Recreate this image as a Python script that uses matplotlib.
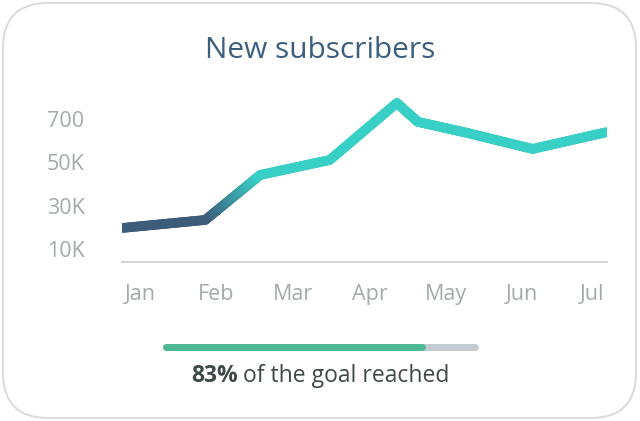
import numpy as np
import matplotlib.pyplot as plt
from matplotlib.collections import LineCollection
from matplotlib.colors import LinearSegmentedColormap, Normalize
from matplotlib.patches import FancyBboxPatch

plt.rcParams['font.family'] = ['Open Sans', 'DejaVu Sans']

# data (subscribers in thousands, x in months from the start of January)
months = ["Jan", "Feb", "Mar", "Apr", "May", "Jun", "Jul"]
month_pos = [0.22, 1.16, 2.12, 3.07, 4.01, 4.95, 5.81]
x_vals = [0, 1.03, 1.71, 2.57, 3.40, 3.66, 4.27, 5.08, 6.0]
subs = [19.7, 23.4, 44.2, 51.1, 77.4, 68.7, 63.6, 56.2, 64.0]
y_ticks = [10, 30, 50, 70]
y_labels = ["10K", "30K", "50K", "700"]
goal_pct = 83

W, H = 640, 421
fig = plt.figure(figsize=(6.4, 4.21), dpi=100)

# background card in pixel coordinates
bg = fig.add_axes([0, 0, 1, 1])
bg.set_xlim(0, W)
bg.set_ylim(H, 0)
bg.axis("off")
card = FancyBboxPatch((3, 3), 633, 415, boxstyle="round,pad=0,rounding_size=45",
                      fc="white", ec="#dcdcdc", lw=1.5)
bg.add_patch(card)
bg.text(320, 51, "New subscribers", ha="center", va="center",
        fontsize=21.5, color="#3d5f7e")

# progress bar
bar_l, bar_r, bar_y = 165.5, 474.5, 346.5
bg.plot([bar_l, bar_r], [bar_y, bar_y], color="#c3cad1", lw=5,
        solid_capstyle="round")
bg.plot([bar_l, bar_l + goal_pct / 100 * (bar_r - bar_l)], [bar_y, bar_y],
        color="#4cb893", lw=5, solid_capstyle="round")
bg.text(238, 376, f"{goal_pct}%", ha="right", va="center", fontsize=16.5,
        fontweight="bold", color="#3e4a48")
bg.text(237, 376, " of the goal reached", ha="left", va="center",
        fontsize=16.5, color="#3e4a48")

# line chart
ax = fig.add_axes([122 / W, (H - 262) / H, 485 / W, (262 - 95) / H])
ax.patch.set_alpha(0)
ax.set_xlim(0, 6)
ax.set_ylim(4.0, 81.1)

x = np.array(x_vals)
y = np.array(subs)
# split each segment into short pieces so the colour can fade with height
px, py = [], []
for i in range(len(x) - 1):
    t = np.linspace(0, 1, 40, endpoint=False)
    px.extend(x[i] + (x[i + 1] - x[i]) * t)
    py.extend(y[i] + (y[i + 1] - y[i]) * t)
px.append(x[-1])
py.append(y[-1])
pts = np.column_stack([px, py]).reshape(-1, 1, 2)
segs = np.concatenate([pts[:-1], pts[1:]], axis=1)
cmap = LinearSegmentedColormap.from_list("sub", ["#3d5c7a", "#38cfc6"])
lc = LineCollection(segs, cmap=cmap, norm=Normalize(25, 44), lw=7,
                    capstyle="round", joinstyle="round")
lc.set_array((segs[:, 0, 1] + segs[:, 1, 1]) / 2)
ax.add_collection(lc)

for s in ["top", "right", "left"]:
    ax.spines[s].set_visible(False)
ax.spines["bottom"].set_color("#d5d5d5")
ax.spines["bottom"].set_linewidth(1.5)

ax.set_yticks(y_ticks)
ax.set_yticklabels(y_labels)
ax.set_xticks(month_pos)
ax.set_xticklabels(months)
ax.tick_params(axis="both", length=0, labelsize=15.5, labelcolor="#a3aaa9")
ax.tick_params(axis="y", pad=54)
ax.tick_params(axis="x", pad=16)
for lab in ax.get_yticklabels():
    lab.set_ha("left")

fig.savefig("out.png", dpi=100)
